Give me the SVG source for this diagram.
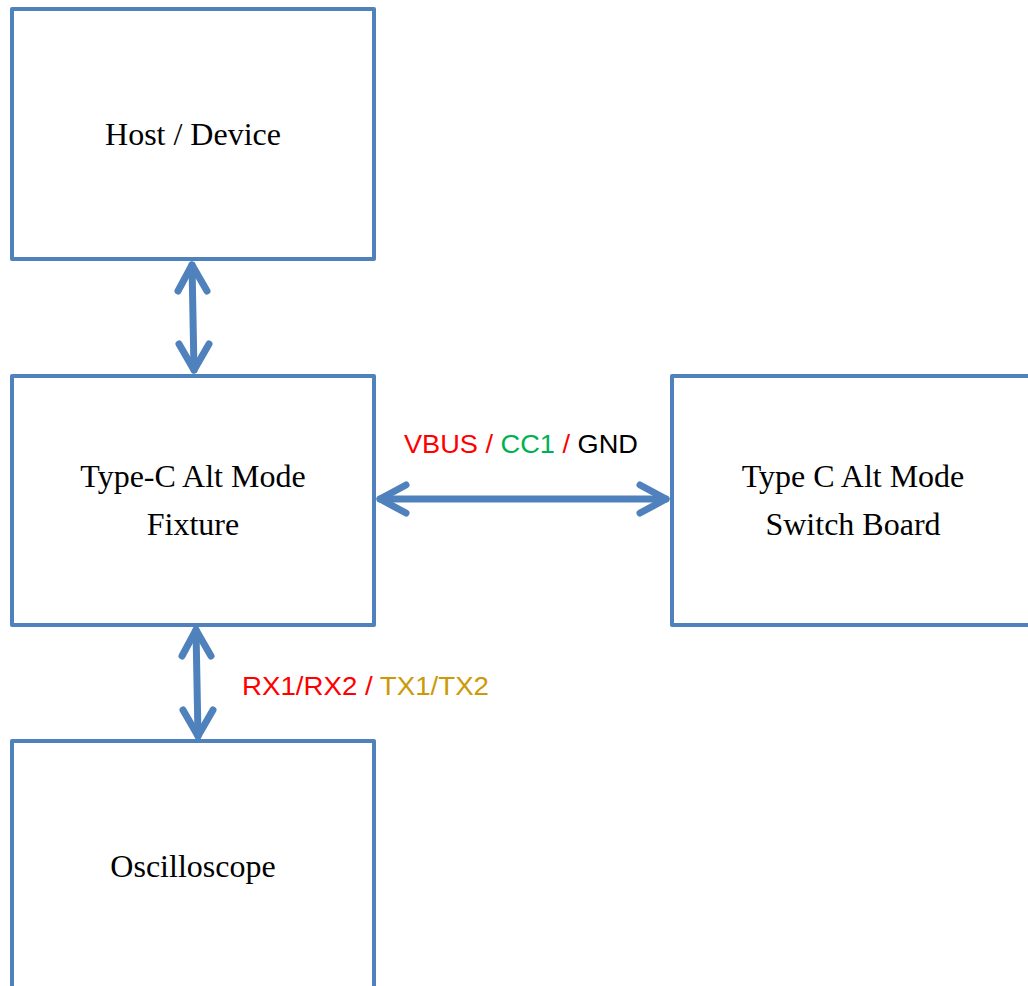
<svg xmlns="http://www.w3.org/2000/svg" width="1028" height="986" viewBox="0 0 1028 986">
<style>
.box{fill:#fff;stroke:#4F81BD;stroke-width:4;stroke-linejoin:round}
.lbl{font-family:"Liberation Serif","Times New Roman",serif;font-size:32px;fill:#000;text-anchor:middle}
.con{fill:none;stroke:#4F81BD;stroke-width:7;stroke-linecap:round;stroke-linejoin:round}
.sig{font-family:"Liberation Sans",Arial,sans-serif;font-size:25px}
.red{fill:#FF0000}.grn{fill:#00B050}.blk{fill:#000}.gld{fill:#CC9A06}
</style>
<rect width="1028" height="986" fill="#fff"/>
<g id="host">
<rect class="box" x="12" y="9" width="362" height="250"/>
<text class="lbl" x="193" y="145">Host / Device</text>
</g>
<g id="fixture">
<rect class="box" x="12" y="376" width="362" height="249"/>
<text class="lbl" x="193" y="487">Type-C Alt Mode</text>
<text class="lbl" x="193" y="535">Fixture</text>
</g>
<g id="switch">
<rect class="box" x="672" y="376" width="380" height="249"/>
<text class="lbl" x="853" y="487">Type C Alt Mode</text>
<text class="lbl" x="853" y="535">Switch Board</text>
</g>
<g id="scope">
<rect class="box" x="12" y="741" width="362" height="270"/>
<text class="lbl" x="193" y="877">Oscilloscope</text>
</g>
<g id="connectors">
<path class="con" d="M192,265 L194,370"/>
<path class="con" d="M178,291 L192,265 L207,291"/>
<path class="con" d="M179,344 L194,370 L209,344"/>
<path class="con" d="M380,499 L666,499"/>
<path class="con" d="M406,485 L380,499 L406,513"/>
<path class="con" d="M640,485 L666,499 L640,513"/>
<path class="con" d="M196,630 L198,736"/>
<path class="con" d="M182,656 L196,630 L211,656"/>
<path class="con" d="M183,710 L198,736 L213,710"/>
</g>
<g id="labels">
<text class="sig" x="404" y="453" textLength="234" lengthAdjust="spacingAndGlyphs"><tspan class="red">VBUS / </tspan><tspan class="grn">CC1</tspan><tspan class="red"> / </tspan><tspan class="blk">GND</tspan></text>
<text class="sig" x="242" y="695" textLength="247" lengthAdjust="spacingAndGlyphs"><tspan class="red">RX1/RX2 / </tspan><tspan class="gld">TX1/TX2</tspan></text>
</g>
</svg>
